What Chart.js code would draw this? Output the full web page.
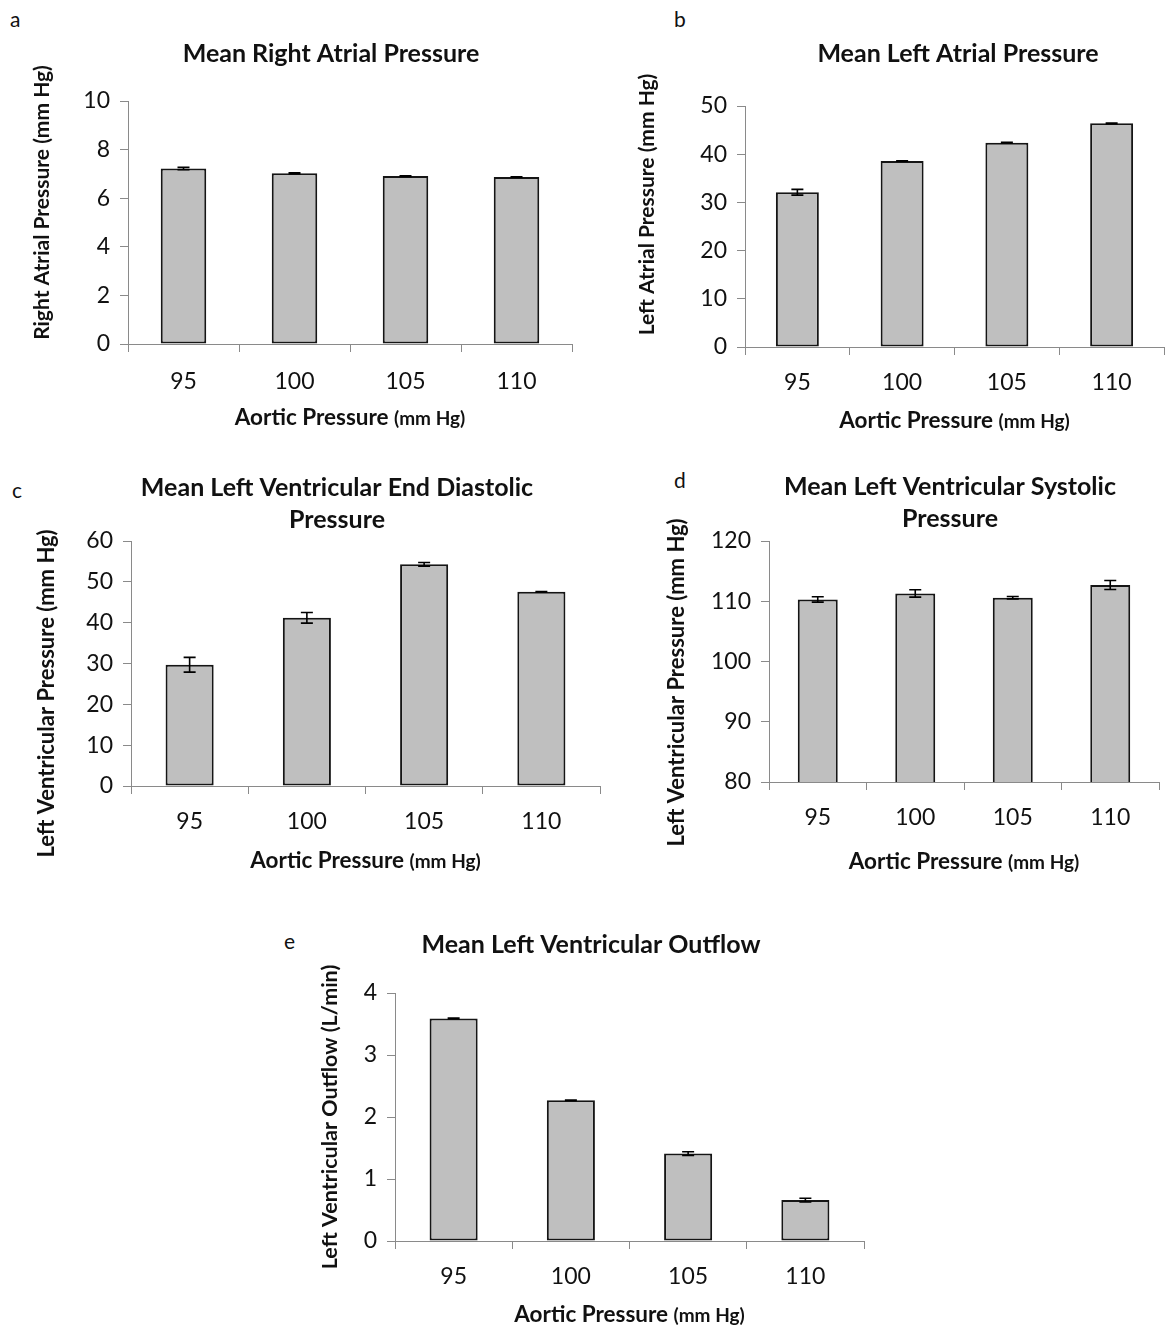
<!DOCTYPE html>
<html>
<head>
<meta charset="utf-8">
<script src="https://cdn.jsdelivr.net/npm/chart.js@4.4.1/dist/chart.umd.min.js"></script>
<style>
html, body { margin: 0; padding: 0; background: #fff; overflow: hidden; }
#page { position: relative; width: 1166px; height: 1326px; overflow: hidden; font-family: Lato, sans-serif; }
.panel { position: absolute; }
.letter { position: absolute; font-size: 21px; color: #111; line-height: 1; }
</style>
</head>
<body>
<div id="page">
	<div class="letter" style="left:10px;top:8px">a</div>
	<div class="letter" style="left:674px;top:8px">b</div>
	<div class="letter" style="left:12px;top:479px">c</div>
	<div class="letter" style="left:674px;top:469px">d</div>
	<div class="letter" style="left:284px;top:930px">e</div>

	<div class="panel" style="left:20px;top:30px;width:622px;height:411px"><canvas id="chart-a"></canvas></div>
	<div class="panel" style="left:628px;top:30px;width:660px;height:412px"><canvas id="chart-b"></canvas></div>
	<div class="panel" style="left:20px;top:465px;width:634px;height:416px"><canvas id="chart-c"></canvas></div>
	<div class="panel" style="left:660px;top:465px;width:580px;height:413px"><canvas id="chart-d"></canvas></div>
	<div class="panel" style="left:312px;top:920px;width:558px;height:406px"><canvas id="chart-e"></canvas></div>
</div>
<script>
// categories (aortic pressure, mm Hg)
const categories = ["95", "100", "105", "110"]

// a - mean right atrial pressure
const rightAtrialMean = [7.22, 7.03, 6.91, 6.87]
const rightAtrialErr = [0.05, 0.02, 0.01, 0.01]
// b - mean left atrial pressure
const leftAtrialMean = [32.1, 38.6, 42.4, 46.4]
const leftAtrialErr = [0.6, 0.05, 0.05, 0.05]
// c - mean LV end diastolic pressure
const lvEndDiastolicMean = [29.7, 41.2, 54.3, 47.6]
const lvEndDiastolicErr = [1.8, 1.3, 0.45, 0.05]
// d - mean LV systolic pressure
const lvSystolicMean = [110.3, 111.3, 110.6, 112.7]
const lvSystolicErr = [0.45, 0.62, 0.2, 0.75]
// e - mean LV outflow
const lvOutflowMean = [3.59, 2.27, 1.41, 0.66]
const lvOutflowErr = [0.005, 0.005, 0.03, 0.03]

const FONT = "Lato"
const AXIS_GRAY = "#8a8a8a"

const errorBars = {
	id: "errorBars",
	afterDatasetsDraw(chart){
		const ds = chart.data.datasets[0]
		const meta = chart.getDatasetMeta(0)
		const yScale = chart.scales.y
		const ctx = chart.ctx
		ctx.save()
		ctx.strokeStyle = "#000"
		ctx.lineWidth = 1.6
		ds.errors.forEach((e, i) => {
			const x = meta.data[i].x
			const top = yScale.getPixelForValue(ds.data[i] + e)
			const bot = yScale.getPixelForValue(ds.data[i] - e)
			ctx.beginPath()
			ctx.moveTo(x, top); ctx.lineTo(x, bot)
			ctx.moveTo(x - 6, top); ctx.lineTo(x + 6, top)
			ctx.moveTo(x - 6, bot); ctx.lineTo(x + 6, bot)
			ctx.stroke()
		})
		ctx.restore()
	}
}

// axis titles drawn by hand: x title has two sizes, y title sits off-centre like the original
function axisTitles(c){
	return {
		id: "axisTitles",
		afterDraw(chart){
			const ctx = chart.ctx
			const area = chart.chartArea
			const big = "Aortic Pressure "
			const small = "(mm Hg)"
			ctx.save()
			ctx.fillStyle = "#111"
			ctx.textBaseline = "alphabetic"
			ctx.font = "bold 22.5px " + FONT
			const wBig = ctx.measureText(big).width
			ctx.font = "bold 19px " + FONT
			const wSmall = ctx.measureText(small).width
			const x = (area.left + area.right) / 2 - (wBig + wSmall) / 2
			const y = area.bottom + c.xTitleOffset + 8
			ctx.font = "bold 22.5px " + FONT
			ctx.fillText(big, x, y)
			ctx.font = "bold 19px " + FONT
			ctx.fillText(small, x + wBig, y)

			ctx.translate(c.yTitleX, (area.top + area.bottom) / 2 + c.yTitleShift)
			ctx.rotate(-Math.PI / 2)
			ctx.textAlign = "center"
			ctx.textBaseline = "middle"
			ctx.font = "bold " + c.yTitleSize + "px " + FONT
			ctx.fillText(c.yTitle, 0, 0)
			ctx.restore()
		}
	}
}

function makeChart(id, c){
	return new Chart(id, {
		type: "bar",
		data: {
			labels: categories,
			datasets: [{
				data: c.values,
				errors: c.errors,
				backgroundColor: "#bfbfbf",
				borderColor: "#151515",
				borderWidth: 2,
				borderSkipped: false,
				barPercentage: 0.41,
				categoryPercentage: 1
			}]
		},
		options: {
			responsive: true,
			maintainAspectRatio: false,
			animation: false,
			events: [],
			plugins: {
				legend: { display: false },
				tooltip: { enabled: false },
				title: {
					display: true,
					text: c.title,
					color: "#111",
					font: { family: FONT, size: 25, weight: "bold", lineHeight: c.titleLH },
					padding: { top: c.titleTop, bottom: c.titleBottom }
				}
			},
			scales: {
				x: {
					grid: { drawOnChartArea: false, color: AXIS_GRAY, tickLength: 8 },
					border: { color: AXIS_GRAY, width: 1 },
					ticks: { color: "#111", font: { family: FONT, size: 23 }, padding: c.xTickPad },
					afterFit: (s) => { s.height = c.xH }
				},
				y: {
					min: c.min,
					max: c.max,
					grid: { drawOnChartArea: false, color: AXIS_GRAY, tickLength: 8 },
					border: { color: AXIS_GRAY, width: 1 },
					ticks: { stepSize: c.step, color: "#111", font: { family: FONT, size: 23 }, padding: 10 },
					afterFit: (s) => { s.width = c.yW }
				},
				// empty right-hand box: keeps the plot narrower while the title stays centred on the whole panel
				spacer: {
					type: "linear",
					position: "right",
					display: true,
					grid: { display: false },
					border: { display: false },
					ticks: { display: false },
					afterFit: (s) => { s.width = c.rightW }
				}
			}
		},
		plugins: [errorBars, axisTitles(c)]
	})
}

makeChart("chart-a", {
	values: rightAtrialMean, errors: rightAtrialErr,
	title: "Mean Right Atrial Pressure", titleLH: 1.2, titleTop: 9, titleBottom: 32,
	yTitle: "Right Atrial Pressure (mm Hg)", yTitleSize: 21, yTitleX: 22, yTitleShift: -20,
	min: 0, max: 10, step: 2,
	yW: 108, xH: 97, rightW: 70, xTitleOffset: 73, xTickPad: 16
})
makeChart("chart-b", {
	values: leftAtrialMean, errors: leftAtrialErr,
	title: "Mean Left Atrial Pressure", titleLH: 1.2, titleTop: 9, titleBottom: 37,
	yTitle: "Left Atrial Pressure (mm Hg)", yTitleSize: 21, yTitleX: 19, yTitleShift: -22,
	min: 0, max: 50, step: 10,
	yW: 117, xH: 95, rightW: 124, xTitleOffset: 73, xTickPad: 14
})
makeChart("chart-c", {
	values: lvEndDiastolicMean, errors: lvEndDiastolicErr,
	title: ["Mean Left Ventricular End Diastolic", "Pressure"], titleLH: 1.28, titleTop: 7, titleBottom: 5,
	yTitle: "Left Ventricular Pressure (mm Hg)", yTitleSize: 22, yTitleX: 27, yTitleShift: 30,
	min: 0, max: 60, step: 10,
	yW: 111, xH: 95, rightW: 54, xTitleOffset: 74, xTickPad: 14
})
makeChart("chart-d", {
	values: lvSystolicMean, errors: lvSystolicErr,
	title: ["Mean Left Ventricular Systolic", "Pressure"], titleLH: 1.28, titleTop: 6, titleBottom: 6,
	yTitle: "Left Ventricular Pressure (mm Hg)", yTitleSize: 22, yTitleX: 17, yTitleShift: 21,
	min: 80, max: 120, step: 10,
	yW: 109, xH: 96, rightW: 81, xTitleOffset: 79, xTickPad: 14
})
makeChart("chart-e", {
	values: lvOutflowMean, errors: lvOutflowErr,
	title: "Mean Left Ventricular Outflow", titleLH: 1.2, titleTop: 10, titleBottom: 33,
	yTitle: "Left Ventricular Outflow (L/min)", yTitleSize: 21.5, yTitleX: 18, yTitleShift: 0,
	min: 0, max: 4, step: 1,
	yW: 83, xH: 85, rightW: 6, xTitleOffset: 73, xTickPad: 14
})
</script>
</body>
</html>
